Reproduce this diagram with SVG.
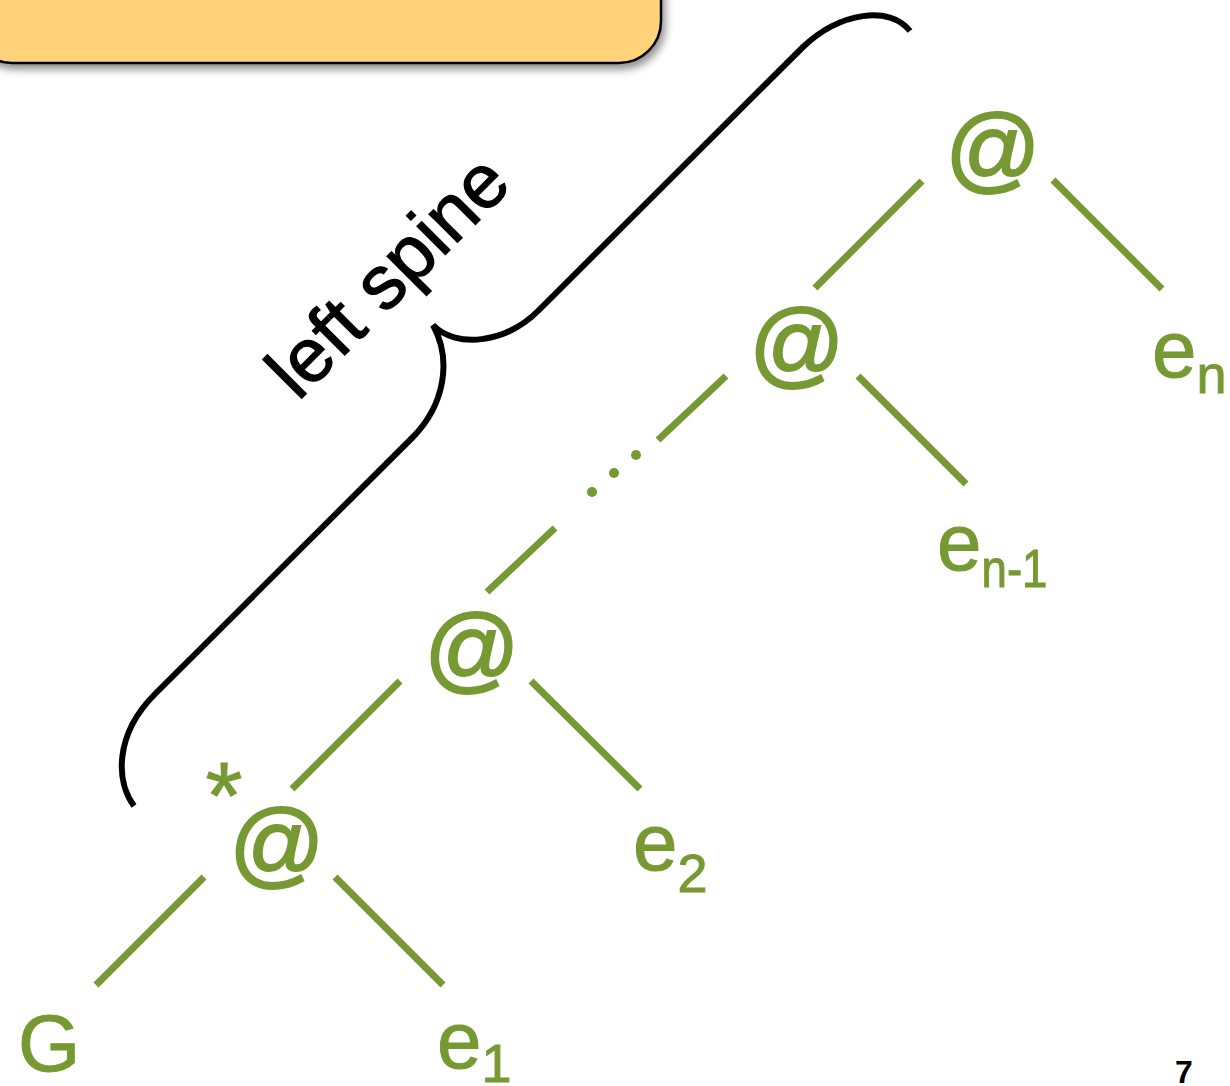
<svg xmlns="http://www.w3.org/2000/svg" width="1230" height="1086" viewBox="0 0 1230 1086">
<defs>
<filter id="sh" x="-10%" y="-10%" width="130%" height="160%">
<feDropShadow dx="3" dy="5" stdDeviation="4" flood-color="#000" flood-opacity="0.45"/>
</filter>
<style>
.g{fill:#779933;font-family:"Liberation Sans",Arial,sans-serif;stroke:#779933;stroke-width:1}
.at{font-size:94px;text-anchor:middle;stroke-width:2}
.lbl{font-size:80px}
.sub{font-size:54px}
.e{stroke:#779933;stroke-width:7;fill:none}
.brace{stroke:#000;stroke-width:6;fill:none;stroke-linecap:butt}
</style>
</defs>
<rect width="1230" height="1086" fill="#fff"/>
<g id="title-box">
<rect x="-30" y="-100" width="691" height="163" rx="42" ry="42" fill="#FED37A" stroke="#000" stroke-width="2.5" filter="url(#sh)"/>
</g>
<g id="brace">
<path class="brace" d="M134,806 C116,782 114,735 155,694 L412,438 C445,405 452,360 433,325 C455,348 505,345 540,309 L803,47 C840,12 890,5 910,31"/>
<text x="298" y="402" transform="rotate(-45 298 402)" font-family="'Liberation Sans',Arial,sans-serif" font-size="76" fill="#000" stroke="#000" stroke-width="1.2" textLength="305" lengthAdjust="spacingAndGlyphs">left spine</text>
</g>
<g id="connectors">
<line class="e" x1="922" y1="181" x2="815" y2="288"/>
<line class="e" x1="1053" y1="180" x2="1162" y2="289"/>
<line class="e" x1="726" y1="376" x2="658" y2="440"/>
<line class="e" x1="858" y1="376" x2="966" y2="484"/>
<line class="e" x1="555" y1="528" x2="487" y2="592"/>
<line class="e" x1="400" y1="681" x2="292" y2="789"/>
<line class="e" x1="531" y1="681" x2="640" y2="789"/>
<line class="e" x1="204" y1="877" x2="96" y2="985"/>
<line class="e" x1="335" y1="877" x2="443" y2="985"/>
<circle cx="592" cy="492" r="5" fill="#779933"/>
<circle cx="614" cy="473" r="5" fill="#779933"/>
<circle cx="636" cy="455" r="5" fill="#779933"/>
</g>
<g id="app-n"><text class="g at" x="993" y="181">@</text></g>
<g id="app-n-1"><text class="g at" x="797" y="376">@</text></g>
<g id="app-2"><text class="g at" x="472" y="681">@</text></g>
<g id="app-1"><text class="g at" x="277" y="876">@</text>
<text class="g" x="224" y="828" font-size="95" text-anchor="middle">*</text></g>
<g id="G"><text class="g lbl" x="18" y="1071">G</text></g>
<g id="e1"><text class="g lbl" x="437" y="1068">e<tspan class="sub" dy="14">1</tspan></text></g>
<g id="e2"><text class="g lbl" x="633" y="870">e<tspan class="sub" dy="22">2</tspan></text></g>
<g id="en-1"><text class="g lbl" x="937" y="570">e<tspan class="sub" dy="17" textLength="66" lengthAdjust="spacingAndGlyphs">n-1</tspan></text></g>
<g id="en"><text class="g lbl" x="1152" y="377">e<tspan class="sub" dy="16">n</tspan></text></g>
<g id="page"><text x="1184" y="1083" font-family="'Liberation Sans',Arial,sans-serif" font-size="32" font-weight="bold" text-anchor="middle" fill="#000">7</text></g>
</svg>
